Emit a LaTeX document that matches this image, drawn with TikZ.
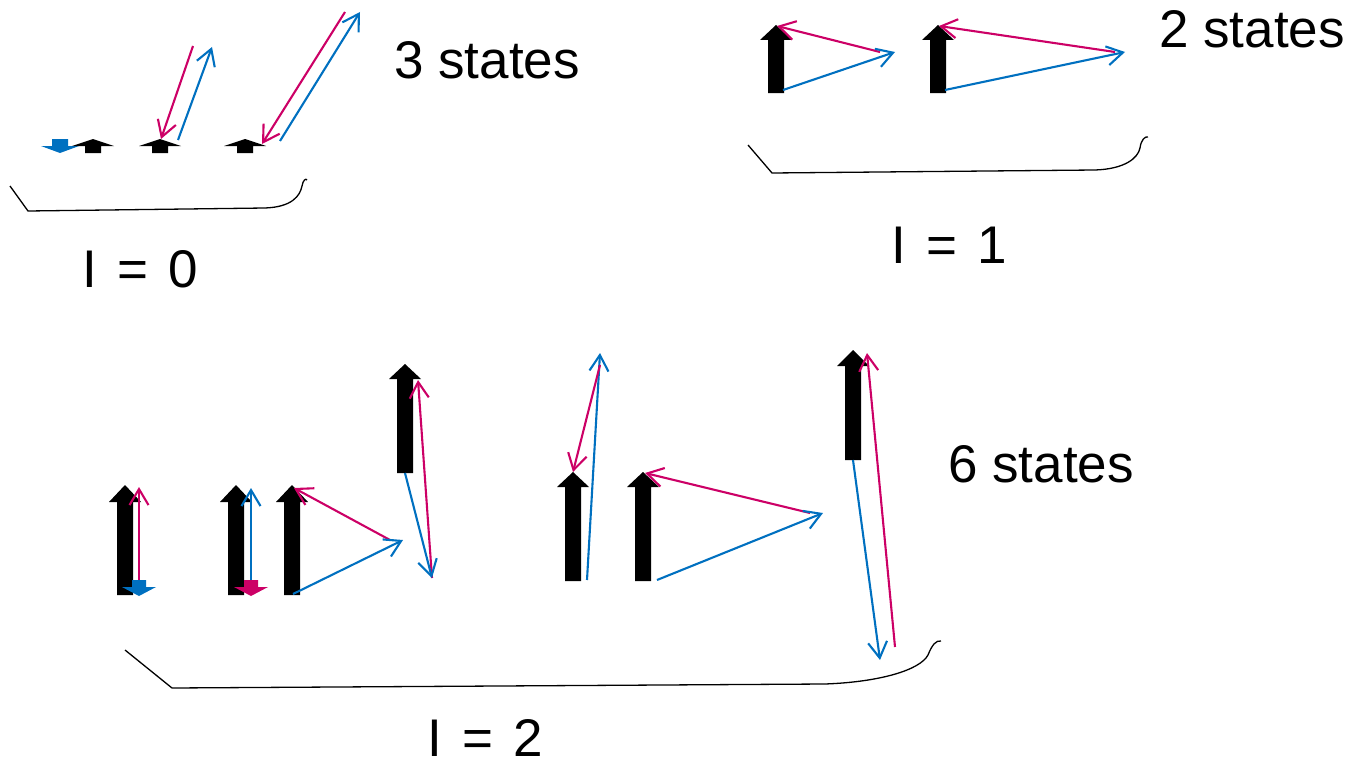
\documentclass[tikz,border=0pt]{standalone}
\usepackage{fontspec}
\setmainfont{Liberation Sans}
\usetikzlibrary{arrows.meta}
\definecolor{spinblue}{RGB}{0,112,192}
\definecolor{spinred}{RGB}{204,0,102}
% block arrow: [colour]{x}{y of shaft end}{y of head base}{y of tip}{half shaft}{half head}
\newcommand{\blockarrow}[7][black]{%
  \path[fill=#1] (#2-#6,#3) -- (#2-#6,#4) -- (#2-#7,#4) -- (#2,#5)
    -- (#2+#7,#4) -- (#2+#6,#4) -- (#2+#6,#3) -- cycle;}
\newcommand{\isospin}[1]{I\hspace{0.1em} = \hspace{0.1em}#1}
\tikzset{
  vecblue/.style={draw=spinblue,line width=2.1pt,-{Straight Barb[length=16pt,width=19pt]}},
  vecred/.style={draw=spinred,line width=2.1pt,-{Straight Barb[length=16pt,width=19pt]}},
  brace/.style={draw=black,line width=1.3pt,line join=round},
  lbl/.style={font=\fontsize{53}{60}\selectfont,anchor=base,inner sep=0pt}
}
\begin{document}
\begin{tikzpicture}[x=1pt,y=-1pt]
\useasboundingbox (0,0) rectangle (1352,768);
% I = 0
\blockarrow[spinblue]{60}{139}{146}{153}{8}{19}
\blockarrow{93}{153}{146}{139}{8}{21}
\blockarrow{160}{153}{146}{139}{8}{21}
\blockarrow{245}{153}{146}{139}{8}{21}
\path[vecred] (193,46) -- (161,139);
\path[vecblue] (178,140) -- (212,47);
\path[vecred] (345,12) -- (262,144);
\path[vecblue] (280,141) -- (360,12);
\path[brace] (10,186) -- (28,211) -- (265,208)
  .. controls (292,207) and (300,196) .. (302,186)
  .. controls (303,180) and (306,178) .. (307,180);
\node[lbl] (n0) at (487,78) {3 states};
\node[lbl] (i0) at (140,287) {\isospin{0}};
% I = 1
\blockarrow{776}{93}{40}{25}{8}{16}
\blockarrow{938}{93}{40}{25}{8}{16}
\path[vecred] (880,52) -- (777,26);
\path[vecblue] (783,90) -- (895,52);
\path[vecred] (1115,52) -- (939,26);
\path[vecblue] (945,90) -- (1125,52);
\path[brace] (748,145) -- (772,173) -- (1095,170)
  .. controls (1125,169) and (1138,158) .. (1140,148)
  .. controls (1141,140) and (1145,136) .. (1148,137);
\node[lbl] (n1) at (1252,48) {2 states};
\node[lbl] (i1) at (949,263) {\isospin{1}};
% I = 2
\blockarrow{125}{595}{502}{485}{8}{16}
\blockarrow[spinblue]{139}{580}{587}{596}{7}{17}
\path[vecred] (139,580) -- (139,487);
\blockarrow{236}{595}{502}{485}{8}{16}
\blockarrow[spinred]{251}{580}{587}{596}{7}{17}
\path[vecblue] (251,580) -- (251,488);
\blockarrow{292}{595}{502}{485}{8}{16}
\path[vecred] (390,540) -- (294,488);
\path[vecblue] (293,594) -- (403,540);
\blockarrow{405}{473}{379}{364}{8}{16}
\path[vecred] (432,578) -- (418,380);
\path[vecblue] (405,473) -- (432,578);
\blockarrow{573}{581}{487}{472}{8}{16}
\path[vecblue] (587,580) -- (600,353);
\path[vecred] (600,365) -- (573,472);
\blockarrow{643}{581}{487}{472}{8}{16}
\path[vecred] (810,513) -- (645,473);
\path[vecblue] (657,580) -- (823,513);
\blockarrow{853}{460}{366}{350}{8}{16}
\path[vecblue] (853,460) -- (880,660);
\path[vecred] (895,647) -- (867,353);
\path[brace] (125,650) -- (172,688) -- (825,684)
  .. controls (880,682) and (920,670) .. (928,655)
  .. controls (932,645) and (936,640) .. (941,641);
\node[lbl] (n2) at (1041,482) {6 states};
\node[lbl] (i2) at (485,756) {\isospin{2}};
\end{tikzpicture}
\end{document}
